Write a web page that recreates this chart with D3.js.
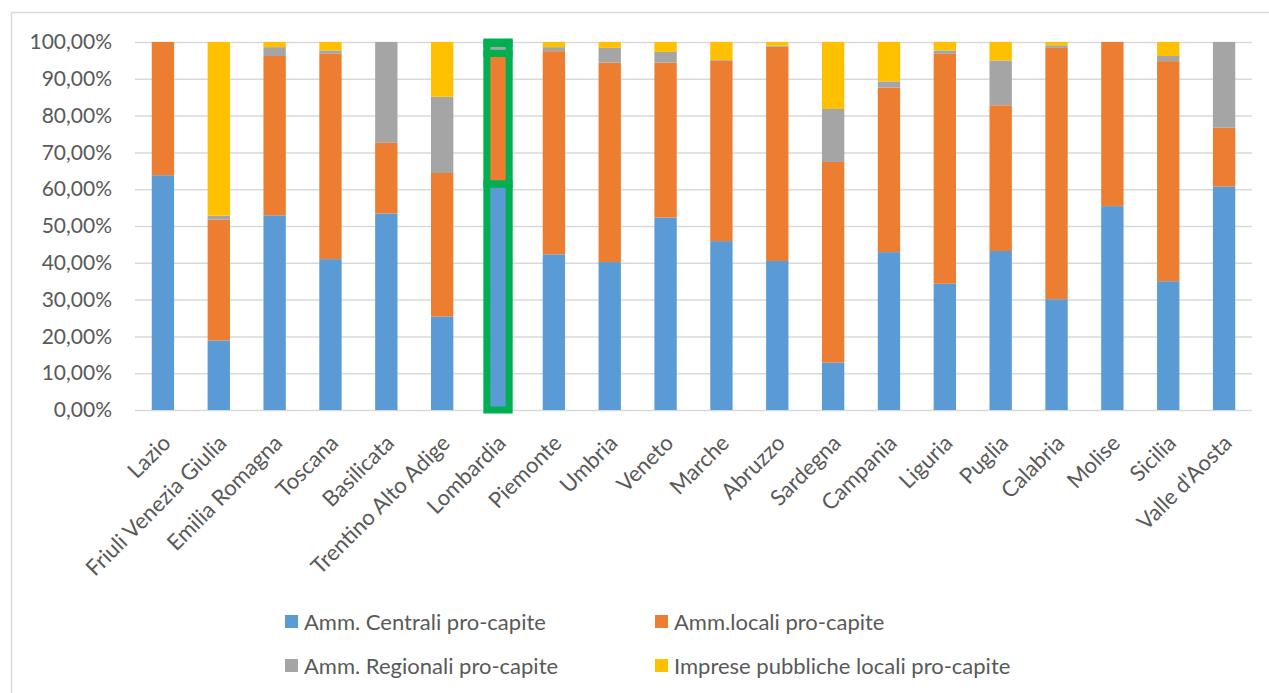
<!DOCTYPE html>
<html>
<head>
<meta charset="utf-8">
<script src="https://cdn.jsdelivr.net/npm/d3@7"></script>
<style>
  html, body { margin: 0; padding: 0; background: #ffffff; }
  svg { display: block; }
  text { font-family: Lato, "Open Sans", sans-serif; fill: #595959; }
</style>
</head>
<body>
<svg id="chart" width="1269" height="693"></svg>
<script>
// ---- data ----
const categories = ["Lazio", "Friuli Venezia Giulia", "Emilia Romagna", "Toscana", "Basilicata",
  "Trentino Alto Adige", "Lombardia", "Piemonte", "Umbria", "Veneto", "Marche", "Abruzzo",
  "Sardegna", "Campania", "Liguria", "Puglia", "Calabria", "Molise", "Sicilia", "Valle d'Aosta"];
const seriesNames = ["Amm. Centrali pro-capite", "Amm.locali pro-capite",
  "Amm. Regionali pro-capite", "Imprese pubbliche locali pro-capite"];
const centrali  = [63.8, 18.9, 52.9, 41.0, 53.4, 25.4, 61.4, 42.3, 40.2, 52.3, 45.9, 40.5, 12.9, 42.9, 34.3, 43.2, 30.1, 55.4, 35.0, 60.7];
const locali    = [36.2, 32.8, 43.3, 55.8, 19.2, 39.0, 35.5, 55.2, 54.2, 42.1, 49.0, 58.2, 54.5, 44.7, 62.5, 39.6, 68.3, 44.6, 59.8, 16.0];
const regionali = [ 0.0,  1.1,  2.4,  0.9, 27.4, 20.7,  2.7,  1.1,  4.0,  2.9,  0.2,  0.3, 14.4,  1.7,  0.9, 12.2,  0.7,  0.0,  1.4, 23.3];
const imprese   = [ 0.0, 47.2,  1.4,  2.3,  0.0, 14.9,  0.4,  1.4,  1.6,  2.7,  4.9,  1.0, 18.2, 10.7,  2.3,  5.0,  0.9,  0.0,  3.8,  0.0];
const yTicks = [0, 10, 20, 30, 40, 50, 60, 70, 80, 90, 100];
const highlighted = "Lombardia";

const colors = ["#5b9bd5", "#ed7d31", "#a5a5a5", "#ffc000"];
const keys = ["centrali", "locali", "regionali", "imprese"];

const rows = categories.map((c, i) => ({
  cat: c, centrali: centrali[i], locali: locali[i], regionali: regionali[i], imprese: imprese[i]
}));

const svg = d3.select("#chart");
const plot = { left: 135, right: 1252, top: 42, bottom: 410 };

const x = d3.scaleBand().domain(categories).range([plot.left, plot.right])
  .paddingInner(0.6).paddingOuter(0.3);
const y = d3.scaleLinear().domain([0, 100]).range([plot.bottom, plot.top]);
const color = d3.scaleOrdinal().domain(keys).range(colors);

// chart border (clipped by the picture frame on right/bottom)
svg.append("line").attr("x1", 11.5).attr("x2", 11.5).attr("y1", 12).attr("y2", 693)
  .attr("stroke", "#d9d9d9").attr("stroke-width", 1.5);
svg.append("line").attr("x1", 11).attr("x2", 1269).attr("y1", 12.5).attr("y2", 12.5)
  .attr("stroke", "#d9d9d9").attr("stroke-width", 1.5);

// gridlines + y labels
const yAxis = d3.axisLeft(y).tickValues(yTicks)
  .tickSize(-(plot.right - plot.left)).tickPadding(23)
  .tickFormat(d => d.toFixed(2).replace(".", ",") + "%");
const gy = svg.append("g").attr("transform", `translate(${plot.left},0)`).call(yAxis);
gy.select(".domain").remove();
gy.selectAll(".tick line").attr("stroke", "#d9d9d9").attr("stroke-width", 1.5);
gy.selectAll(".tick text").attr("font-size", 21).attr("font-family", "Lato, sans-serif").attr("fill", "#595959");

// stacked bars
const stack = d3.stack().keys(keys);
const layers = stack(rows);
svg.append("g").selectAll("g").data(layers).join("g")
  .attr("fill", d => color(d.key))
  .selectAll("rect").data(d => d).join("rect")
  .attr("x", d => x(d.data.cat))
  .attr("width", x.bandwidth())
  .attr("y", d => y(d[1]))
  .attr("height", d => y(d[0]) - y(d[1]));

// highlighted outline (Lombardia)
svg.append("g").selectAll("rect")
  .data(layers.map(l => l.find(d => d.data.cat === highlighted)).filter(d => d[1] > d[0]))
  .join("rect")
  .attr("x", d => x(d.data.cat))
  .attr("width", x.bandwidth())
  .attr("y", d => y(d[1]))
  .attr("height", d => y(d[0]) - y(d[1]))
  .attr("fill", "none")
  .attr("stroke", "#00b050")
  .attr("stroke-width", 7);

// x labels
const gx = svg.append("g");
gx.selectAll("text").data(categories).join("text")
  .attr("transform", d => `translate(${x(d) + x.bandwidth() / 2 + 3.7},439) rotate(-45)`)
  .attr("text-anchor", "end")
  .attr("dy", "0.35em")
  .attr("font-size", 22)
  .text(d => d);

// legend
const legendPos = [[285, 622], [655, 622], [285, 666], [655, 666]];
const lg = svg.append("g").selectAll("g").data(seriesNames).join("g")
  .attr("transform", (d, i) => `translate(${legendPos[i][0]},${legendPos[i][1]})`);
lg.append("rect").attr("x", 0).attr("y", -7).attr("width", 13).attr("height", 13)
  .attr("fill", (d, i) => colors[i]);
lg.append("text").attr("x", 19).attr("y", 0).attr("dy", "0.35em")
  .attr("font-size", 22).text(d => d);
</script>
</body>
</html>
